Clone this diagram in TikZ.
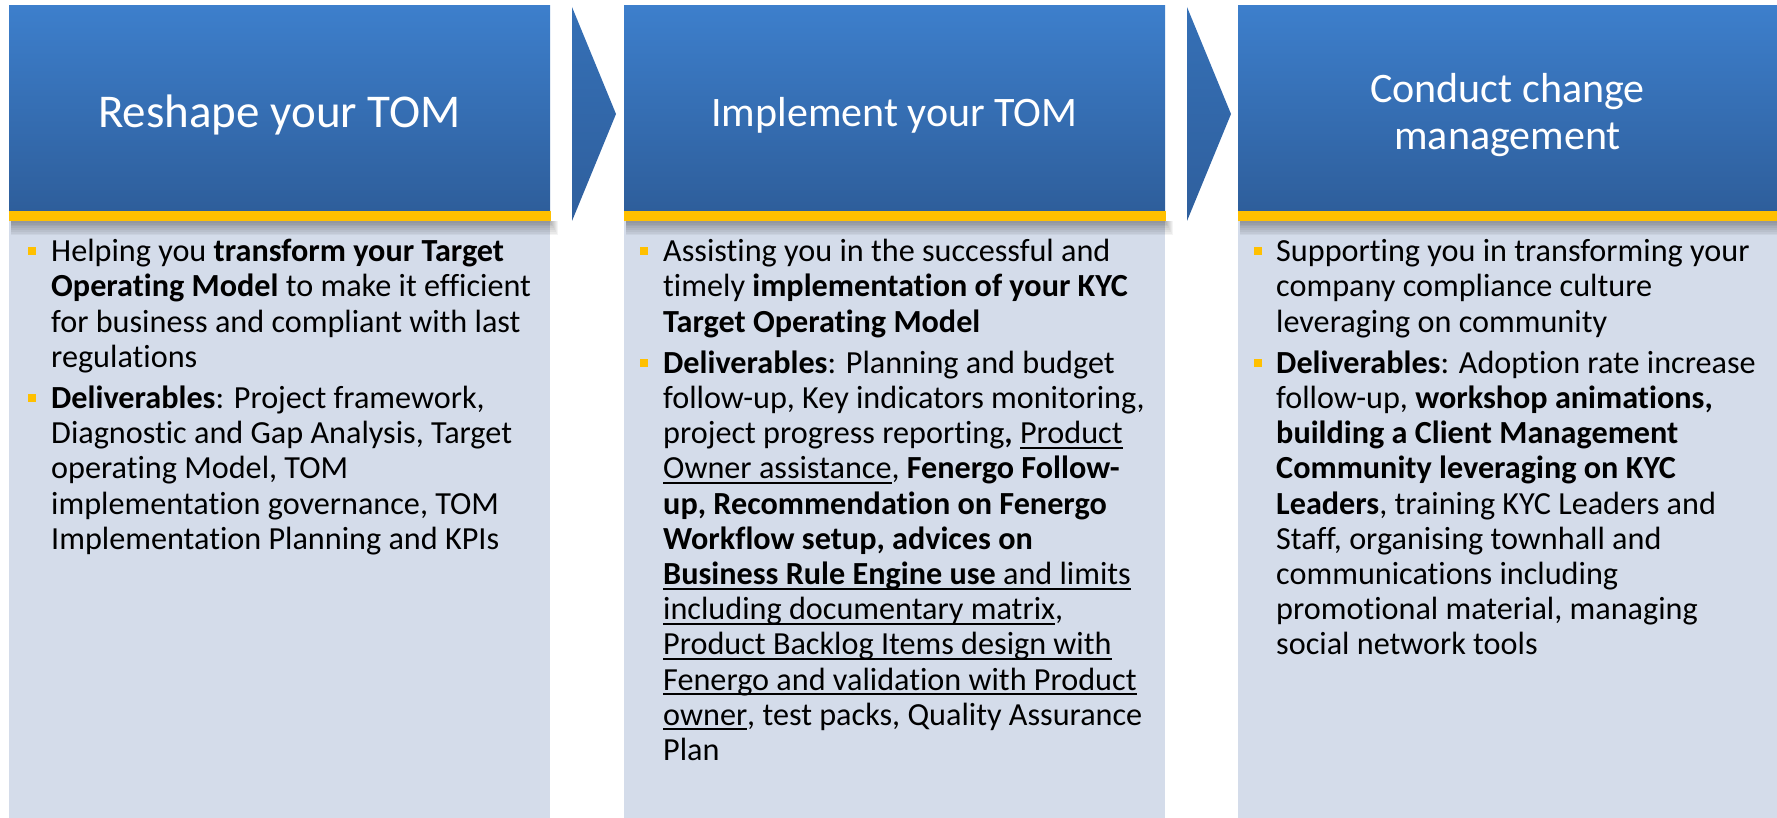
\documentclass[tikz,border=0pt]{standalone}
\usepackage{fontspec}
\setmainfont{Carlito}[Ligatures=NoCommon]
\definecolor{hdtop}{HTML}{3D7FCC}
\definecolor{hdbot}{HTML}{2E5E9B}
\definecolor{chevtop}{HTML}{3570B6}
\definecolor{chevbot}{HTML}{2F5F9D}
\definecolor{bodyc}{HTML}{D4DCEA}
\definecolor{barc}{HTML}{FFC000}
\newsavebox\ulbox
\newcommand\ulx[1]{\sbox\ulbox{#1}\rlap{\rule[-5pt]{\wd\ulbox}{2pt}}\usebox\ulbox}
\tikzset{
  hdr/.style={top color=hdtop, bottom color=hdbot, draw=none},
  chevfill/.style={top color=chevtop, bottom color=chevbot, draw=none},
  bodyfill/.style={fill=bodyc, draw=none},
  ybar/.style={fill=barc, draw=none},
  htitle/.style={anchor=base, inner sep=0pt, text=white, font=\fontsize{42}{50}\selectfont},
  txt/.style={anchor=base west, inner sep=0pt, text=black, font=\fontsize{32.2}{35}\selectfont},
  bul/.style={rectangle, fill=barc, draw=none, minimum width=8pt, minimum height=8pt, inner sep=0pt}
}
\begin{document}
\begin{tikzpicture}[x=1pt,y=-1pt]
\useasboundingbox (0,0) rectangle (1777,818);
% bodies
\foreach \xa/\xb in {9/550, 624/1165, 1238/1777}{
  \path[bodyfill] (\xa,221) rectangle (\xb,818);
}
% shadows under headers
\foreach \xa/\xb in {9/550, 624/1165, 1238/1777}{
  \foreach \i in {1,...,8}{
    \fill[black, opacity=0.045] ({\xa+2},221) rectangle ({\xb+\i},{221+1.8*\i});
  }
}
% headers
\foreach \xa/\xb in {9/550, 624/1165, 1238/1777}{
  \path[hdr] (\xa,5.5) rectangle (\xb,211);
  \path[ybar] (\xa,211) rectangle ({\xb+1},221);
}
% chevrons
\path[chevfill] (572,7) -- (616,114) -- (572,221) -- cycle;
\path[chevfill] (1187,7) -- (1231,114) -- (1187,221) -- cycle;
% header titles
\node[htitle, font=\fontsize{47}{56}\selectfont] (t1) at (279.5,128) {Reshape your TOM};
\node[htitle] (t2) at (894.5,127) {Implement your TOM};
\node[htitle] (t3a) at (1507.5,103) {Conduct change};
\node[htitle] (t3b) at (1507.5,150) {management};
% bullets
\node[bul] (b11) at (32,251) {};
\node[bul] (b12) at (32,397.8) {};
\node[bul] (b21) at (644,251) {};
\node[bul] (b22) at (644,362.6) {};
\node[bul] (b31) at (1258,251) {};
\node[bul] (b32) at (1258,362.6) {};
% column 1
\node[txt] (c1a) at (51,261.7) {Helping you \textbf{transform your Target}};
\node[txt] (c1b) at (51,296.9) {\textbf{Operating Model} to make it efficient};
\node[txt] (c1c) at (51,332.1) {for business and compliant with last};
\node[txt] (c1d) at (51,367.3) {regulations};
\node[txt] (c1e) at (51,408.5) {\textbf{Deliverables}: Project framework,};
\node[txt] (c1f) at (51,443.7) {Diagnostic and Gap Analysis, Target};
\node[txt] (c1g) at (51,478.9) {operating Model, TOM};
\node[txt] (c1h) at (51,514.1) {implementation governance, TOM};
\node[txt] (c1i) at (51,549.3) {Implementation Planning and KPIs};
% column 2
\node[txt] (c2a) at (663,261.7) {Assisting you in the successful and};
\node[txt] (c2b) at (663,296.9) {timely \textbf{implementation of your KYC}};
\node[txt] (c2c) at (663,332.1) {\textbf{Target Operating Model}};
\node[txt] (c2d) at (663,373.3) {\textbf{Deliverables}: Planning and budget};
\node[txt] (c2e) at (663,408.5) {follow-up, Key indicators monitoring,};
\node[txt] (c2f) at (663,443.7) {project progress reporting\textbf{,} \ulx{Product}};
\node[txt] (c2g) at (663,478.9) {\ulx{Owner assistance}, \textbf{Fenergo Follow-}};
\node[txt] (c2h) at (663,514.1) {\textbf{up, Recommendation on Fenergo}};
\node[txt] (c2i) at (663,549.3) {\textbf{Workflow setup, advices on}};
\node[txt] (c2j) at (663,584.5) {\ulx{\textbf{Business Rule Engine use} and limits}};
\node[txt] (c2k) at (663,619.7) {\ulx{including documentary matrix},};
\node[txt] (c2l) at (663,654.9) {\ulx{Product Backlog Items design with}};
\node[txt] (c2m) at (663,690.1) {\ulx{Fenergo and validation with Product}};
\node[txt] (c2n) at (663,725.3) {\ulx{owner}, test packs, Quality Assurance};
\node[txt] (c2o) at (663,760.5) {Plan};
% column 3
\node[txt] (c3a) at (1276,261.7) {Supporting you in transforming your};
\node[txt] (c3b) at (1276,296.9) {company compliance culture};
\node[txt] (c3c) at (1276,332.1) {leveraging on community};
\node[txt] (c3d) at (1276,373.3) {\textbf{Deliverables}: Adoption rate increase};
\node[txt] (c3e) at (1276,408.5) {follow-up, \textbf{workshop animations,}};
\node[txt] (c3f) at (1276,443.7) {\textbf{building a Client Management}};
\node[txt] (c3g) at (1276,478.9) {\textbf{Community leveraging on KYC}};
\node[txt] (c3h) at (1276,514.1) {\textbf{Leaders}, training KYC Leaders and};
\node[txt] (c3i) at (1276,549.3) {Staff, organising townhall and};
\node[txt] (c3j) at (1276,584.5) {communications including};
\node[txt] (c3k) at (1276,619.7) {promotional material, managing};
\node[txt] (c3l) at (1276,654.9) {social network tools};
\end{tikzpicture}
\end{document}
